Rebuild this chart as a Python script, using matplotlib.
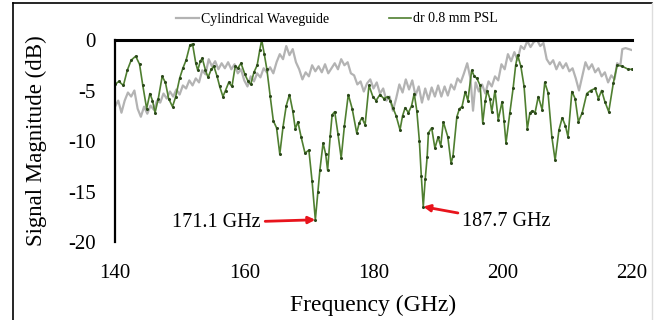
import matplotlib
matplotlib.use("Agg")
import matplotlib.pyplot as plt
from matplotlib.lines import Line2D

plt.rcParams["font.family"] = ["Liberation Serif", "DejaVu Serif"]

# Cylindrical waveguide trace (GHz, dB)
cyl_freq = [
    140.0, 140.5, 141.0, 141.5, 142.0, 142.5, 143.0, 143.5, 144.0, 144.5,
    145.0, 145.5, 146.0, 146.5, 147.0, 147.5, 148.0, 148.5, 149.0, 149.5,
    150.0, 150.5, 151.0, 151.5, 152.0, 152.5, 153.0, 153.5, 154.0, 154.5,
    155.0, 155.5, 156.0, 156.5, 157.0, 157.5, 158.0, 158.5, 159.0, 159.5,
    160.0, 160.5, 161.0, 161.5, 162.0, 162.5, 163.0, 163.5, 164.0, 164.5,
    165.0, 165.5, 166.0, 166.5, 167.0, 167.5, 168.0, 168.5, 169.0, 169.5,
    170.0, 170.5, 171.0, 171.5, 172.0, 172.5, 173.0, 173.5, 174.0, 174.5,
    175.0, 175.5, 176.0, 176.5, 177.0, 177.5, 178.0, 178.5, 179.0, 179.5,
    180.0, 180.5, 181.0, 181.5, 182.0, 182.5, 183.0, 183.5, 184.0, 184.5,
    185.0, 185.5, 186.0, 186.5, 187.0, 187.5, 188.0, 188.5, 189.0, 189.5,
    190.0, 190.5, 191.0, 191.5, 192.0, 192.5, 193.0, 193.5, 194.0, 194.5,
    195.0, 195.4, 195.8, 196.3, 196.8, 197.3, 197.8, 198.3, 198.8, 199.3,
    199.8, 200.3, 200.8, 201.3, 201.8, 202.3, 202.8, 203.3, 203.8, 204.3,
    204.8, 205.3, 205.8, 206.3, 206.8, 207.3, 207.8, 208.3, 208.8, 209.3,
    209.8, 210.3, 210.8, 211.3, 211.8, 212.3, 212.8, 213.3, 213.8, 214.3,
    214.8, 215.3, 215.8, 216.3, 216.8, 217.3, 217.7, 218.2, 218.5, 219.0,
    219.5, 220.0,
]
cyl_db = [
    -6.6, -6.0, -7.2, -6.0, -5.2, -5.6, -5.0, -6.8, -7.6, -6.6,
    -7.3, -6.5, -6.9, -6.0, -6.2, -5.3, -5.8, -5.1, -5.6, -4.9,
    -5.4, -4.5, -4.8, -4.0, -4.5, -3.8, -4.2, -3.0, -3.4, -1.9,
    -2.6, -2.1, -2.9, -2.3, -2.8, -2.2, -2.9, -2.4, -3.3, -2.9,
    -4.0, -4.6, -3.6, -4.1, -3.3, -3.7, -2.8, -3.2, -2.7, -3.3,
    -2.2, -1.4, -1.9, -0.6, -1.5, -0.9, -2.2, -2.9, -3.9, -3.2,
    -3.6, -2.5, -3.1, -2.6, -3.2, -2.4, -3.3, -2.8, -2.3, -2.9,
    -1.9, -2.5, -2.2, -3.3, -3.5, -4.4, -4.1, -5.1, -4.3, -3.9,
    -4.8, -4.2, -5.3, -4.8, -6.0, -5.6, -7.0, -5.8, -4.4, -5.2,
    -3.9, -4.9, -4.0, -5.5, -4.6, -6.2, -4.8, -5.9, -4.7, -5.6,
    -4.5, -5.6, -4.6, -5.5, -4.4, -4.9, -3.8, -4.2, -3.3, -2.3,
    -3.8, -7.0, -4.2, -5.1, -4.4, -5.3, -4.1, -4.6, -3.6, -4.0,
    -2.4, -2.9, -1.4, -2.1, -1.2, -2.0, -0.6, -0.9, -0.1, -0.7,
    -0.2, 0.0, -0.6, -0.3, -1.9, -2.4, -2.0, -2.9, -2.2, -2.8,
    -2.3, -3.1, -2.8, -3.8, -5.0, -3.6, -2.2, -2.9, -2.4, -3.2,
    -2.8, -3.6, -3.2, -4.2, -3.5, -3.9, -2.3, -2.5, -0.9, -0.8,
    -0.9, -1.0,
]

# dr 0.8 mm PSL trace (GHz, dB)
psl_freq = [
    140.0, 140.6, 141.3, 141.9, 142.5, 143.2, 143.8, 144.3, 144.9, 145.4,
    145.8, 146.2, 146.7, 147.3, 147.8, 148.3, 148.9, 149.4, 150.0, 150.5,
    151.0, 151.6, 152.0, 152.5, 152.8, 153.2, 153.5, 154.0, 154.4, 154.9,
    155.3, 155.8, 156.2, 156.7, 157.1, 157.6, 158.1, 158.6, 159.0, 159.5,
    160.1, 160.6, 161.0, 161.5, 162.0, 162.4, 162.7, 163.1, 163.5, 164.0,
    164.5, 165.0, 165.5, 166.0, 166.5, 167.0, 167.5, 167.9, 168.3, 168.8,
    169.4, 170.0, 170.5, 171.0, 171.4, 171.7, 172.2, 172.6, 172.9, 173.3,
    173.6, 174.0, 174.5, 175.0, 175.5, 176.1, 176.7, 177.4, 177.8, 178.2,
    178.7, 179.3, 179.9, 180.4, 181.0, 181.6, 182.2, 182.6, 183.0, 183.5,
    184.1, 184.5, 184.9, 185.4, 185.9, 186.3, 186.7, 187.1, 187.4, 187.7,
    188.0, 188.3, 188.5, 189.0, 189.5, 190.0, 190.4, 190.8, 191.5, 192.0,
    192.3, 192.9, 193.3, 193.7, 194.2, 194.6, 195.2, 195.6, 196.0, 196.5,
    196.9, 197.3, 197.6, 198.0, 198.3, 198.8, 199.3, 199.9, 200.2, 200.5,
    201.1, 201.6, 202.0, 202.3, 202.8, 203.3, 203.8, 204.2, 204.6, 205.0,
    205.5, 206.1, 206.5, 207.0, 207.6, 208.1, 208.7, 209.2, 209.7, 210.1,
    210.7, 211.2, 211.7, 212.3, 213.0, 213.6, 214.3, 214.8, 215.3, 215.8,
    216.4, 217.1, 217.7, 218.5, 219.4, 220.0,
]
psl_db = [
    -4.4, -4.1, -4.5, -3.0, -2.0, -1.6, -2.4, -4.5, -6.8, -5.3,
    -6.0, -7.2, -5.8, -3.6, -4.2, -5.8, -6.6, -5.6, -3.8, -2.8,
    -2.0, -0.5, -0.4, -2.3, -3.0, -2.1, -1.8, -3.0, -3.7, -2.9,
    -2.6, -3.6, -4.6, -5.6, -5.0, -4.2, -4.6, -2.6, -2.8, -2.3,
    -3.4, -4.1, -4.4, -3.2, -2.5, -1.0, 0.0, -1.4, -2.9, -5.5,
    -8.0, -8.7, -11.3, -8.6, -6.5, -5.4, -7.0, -8.8, -8.1, -9.6,
    -11.2, -10.9, -14.0, -17.8, -15.0, -12.9, -10.2, -11.3, -12.9, -9.5,
    -7.4, -7.1, -9.3, -11.7, -8.5, -5.4, -6.8, -9.2, -8.2, -7.7,
    -8.4, -4.5, -5.6, -6.0, -5.4, -5.8, -5.6, -6.0, -6.7, -7.5,
    -8.9, -7.5, -6.7, -7.2, -6.5, -5.3, -7.0, -10.0, -13.5, -16.5,
    -13.8, -11.6, -9.2, -8.7, -10.7, -9.6, -10.5, -8.1, -9.6, -12.2,
    -11.5, -7.6, -6.8, -6.6, -5.1, -6.0, -3.0, -3.6, -3.8, -4.5,
    -8.2, -6.0, -5.0, -5.8, -7.1, -5.0, -7.9, -6.1, -8.0, -10.2,
    -7.2, -4.8, -2.5, -1.5, -2.6, -4.6, -8.8, -7.2, -7.0, -7.2,
    -5.6, -6.9, -4.2, -5.2, -9.6, -11.9, -8.9, -7.7, -8.5, -9.6,
    -5.1, -5.8, -8.1, -7.2, -5.3, -5.0, -4.8, -5.8, -5.0, -6.1,
    -7.1, -4.3, -2.5, -2.6, -2.9, -2.9,
]

x_ticks = [140, 160, 180, 200, 220]
y_ticks = [0, -5, -10, -15, -20]

# annotated dips: (label, freq, dB, text x, text y, alignment)
dips = [
    ("171.1 GHz", 171.0, -17.8, 162.6, -18.1, "right"),
    ("187.7 GHz", 187.7, -16.5, 193.7, -18.0, "left"),
]

fig = plt.figure(figsize=(6.59, 3.2), dpi=100)
ax = fig.add_axes([115 / 659, 78 / 320, 517 / 659, 202 / 320])

ax.plot(cyl_freq, cyl_db, color="#b3b3b3", lw=1.6, label="Cylindrical Waveguide")
ax.plot(psl_freq, psl_db, color="#4f7f30", lw=1.2, marker="o", ms=1.2,
        mfc="#2b481a", mec="#2b481a", label="dr 0.8 mm PSL")

for label, fx, fy, tx, ty, ha in dips:
    ax.annotate(label, xy=(fx, fy), xytext=(tx, ty), ha=ha, va="center",
                fontsize=14.5,
                arrowprops=dict(arrowstyle="-|>", color="#e8141c", lw=2,
                                mutation_scale=10, shrinkA=1, shrinkB=0))

ax.set_xlim(140, 220)
ax.set_ylim(-20, 0)
ax.set_xticks(x_ticks)
ax.set_yticks(y_ticks)
ax.set_yticklabels([str(v) for v in y_ticks])
ax.tick_params(length=0, labelsize=15)
ax.tick_params(axis="x", pad=16)
ax.tick_params(axis="y", pad=14)

for side in ["right", "bottom"]:
    ax.spines[side].set_visible(False)
ax.spines["left"].set_linewidth(1.6)
ax.spines["top"].set_linewidth(2.2)

ax.set_xlabel("Frequency (GHz)", fontsize=17, labelpad=8)
ax.set_ylabel("Signal Magnitude (dB)", fontsize=16.5, labelpad=15)

fig.legend(loc="center", bbox_to_anchor=(337 / 659, 1 - 19 / 320),
           ncol=2, frameon=False, fontsize=10, handlelength=1.6,
           handletextpad=0.15, columnspacing=4.3, markerscale=0)

# picture frame
fig.add_artist(Line2D([13 / 659, 13 / 659], [0, 1 - 3 / 320], color="black", lw=1.2))
fig.add_artist(Line2D([13 / 659, 652 / 659], [1 - 3 / 320, 1 - 3 / 320], color="black", lw=1.2))
fig.add_artist(Line2D([652 / 659, 652 / 659], [0, 1 - 3 / 320], color="#dddddd", lw=1))

fig.savefig("out.png", dpi=100)
